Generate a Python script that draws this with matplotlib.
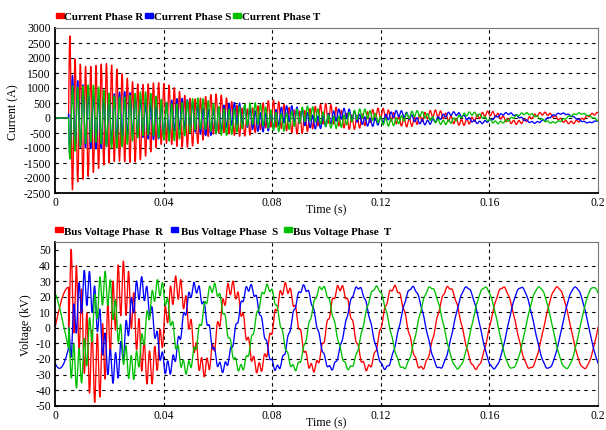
import numpy as np
import matplotlib.pyplot as plt
from matplotlib.patches import Rectangle

plt.rcParams['font.family'] = ['Liberation Serif', 'DejaVu Serif']
plt.rcParams['axes.unicode_minus'] = False

# ---- values ----
f_sys = 50.0        # Hz, 20 ms period of the bus voltages
f_ring = 520.0      # Hz, ringing after capacitor switching
t_switch = 0.005    # s
t_end = 0.2

phase_shift_deg = [0, -120, 120]
colors = ['#ff0000', '#0000ff', '#00c000']

# steady-state amplitudes
i_fund = [150, 150, 150]     # A  (capacitor current leads voltage by 90 deg)
v_fund = [26, 26, 26]        # kV

# envelope of the ringing, read at these instants
env_t = [0.005, 0.0055, 0.0065, 0.0075, 0.010, 0.015, 0.020, 0.025, 0.030, 0.035,
         0.040, 0.045, 0.050, 0.055, 0.060, 0.065, 0.070, 0.075, 0.080, 0.090,
         0.100, 0.110, 0.120, 0.140, 0.160, 0.180, 0.200]
i_ring_r = [2900, 2750, 2300, 2050, 1900, 1750, 1650, 1450, 1300, 1150,
            1000, 950, 800, 700, 650, 550, 450, 420, 450, 380,
            330, 230, 180, 120, 80, 50, 40]
i_ring_s = [1500, 1450, 1250, 1150, 1050, 900, 820, 750, 650, 580,
            550, 520, 480, 450, 420, 380, 350, 320, 300, 250,
            200, 160, 120, 70, 40, 25, 15]
i_ring_t = [1300, 1250, 1150, 1050, 980, 940, 900, 820, 760, 700,
            650, 600, 550, 500, 470, 420, 380, 350, 320, 260,
            220, 170, 130, 80, 45, 30, 20]
i_ring_sign = [1, -1, -1]

v_ring_r = [26, 26, 25, 24, 23, 22, 20, 17, 14, 11,
            9, 7.5, 6.5, 5.5, 5, 4.5, 4, 3.6, 3.3, 2.8,
            2.4, 2, 1.6, 1, 0.6, 0.4, 0.3]
v_ring_s = [13, 13, 13, 13, 12, 11, 10, 9, 7.5, 6,
            5, 4.2, 3.6, 3.2, 2.9, 2.6, 2.4, 2.2, 2, 1.7,
            1.4, 1.1, 0.9, 0.6, 0.4, 0.3, 0.2]
v_ring_t = [13, 13, 13, 13, 12, 11, 10, 9, 7.5, 6,
            5, 4.2, 3.6, 3.2, 2.9, 2.6, 2.4, 2.2, 2, 1.7,
            1.4, 1.1, 0.9, 0.6, 0.4, 0.3, 0.2]
v_ring_sign = [-1, 1, 1]

i_yticks = list(range(-2500, 3001, 500))
v_yticks = list(range(-50, 51, 10))
x_ticks = [0, 0.04, 0.08, 0.12, 0.16, 0.2]
x_ticklabels = ['0', '0.04', '0.08', '0.12', '0.16', '0.2']

i_labels = ['Current Phase R', 'Current Phase S', 'Current Phase T']
v_labels = ['Bus Voltage Phase  R', 'Bus Voltage Phase  S', 'Bus Voltage Phase  T']

# ---- waveforms ----
t = np.arange(0, t_end, 5e-6)
w = 2 * np.pi * f_sys
on = t >= t_switch
tp = np.where(on, t - t_switch, 0)
ring_s = np.sin(2 * np.pi * f_ring * tp)
ring_c = np.cos(2 * np.pi * f_ring * tp)

currents, voltages = [], []
for k in range(3):
    sh = np.deg2rad(phase_shift_deg[k])
    ie = np.interp(t, env_t, [i_ring_r, i_ring_s, i_ring_t][k])
    ve = np.interp(t, env_t, [v_ring_r, v_ring_s, v_ring_t][k])
    i = (i_fund[k] * np.cos(w * t + sh) + i_ring_sign[k] * ie * ring_s) * on
    v = v_fund[k] * np.sin(w * t + sh) + v_ring_sign[k] * ve * ring_c * on
    currents.append(i)
    voltages.append(v)

# ---- figure ----
W, H = 606, 430
fig = plt.figure(figsize=(W / 100, H / 100), dpi=100)
ax1 = fig.add_axes([55 / W, 1 - 193 / H, 543 / W, 165 / H])
ax2 = fig.add_axes([55 / W, 1 - 405.7 / H, 543 / W, 164 / H])


def style(ax, yticks, ylim):
    ax.set_xlim(0, 0.2)
    ax.set_ylim(*ylim)
    ax.set_xticks(x_ticks)
    ax.set_xticklabels(x_ticklabels)
    ax.set_yticks(yticks)
    ax.tick_params(direction='in', length=2, labelsize=8.4, pad=3)
    for y in yticks[1:-1]:
        ax.axhline(y, color='k', lw=0.8, ls=(0, (3, 4)), zorder=0.5)
    for x in x_ticks[1:-1]:
        ax.axvline(x, color='k', lw=0.8, ls=(0, (3, 3)), zorder=0.5)
    for s in ['left', 'bottom']:
        ax.spines[s].set_linewidth(1.3)
        ax.spines[s].set_color('k')
    for s in ['top', 'right']:
        ax.spines[s].set_linewidth(0.8)
        ax.spines[s].set_color('#777777')


for k in range(3):
    ax1.plot(t, currents[k], color=colors[k], lw=0.95)
    ax2.plot(t, voltages[k], color=colors[k], lw=0.95)

style(ax1, i_yticks, (-2500, 3000))
style(ax2, v_yticks, (-50, 55.3))

ax1.set_ylabel('Current (A)', fontsize=8.6)
ax1.yaxis.set_label_coords(-0.066, 0.49)
ax2.set_ylabel('Voltage (kV)', fontsize=8.6)
ax2.yaxis.set_label_coords(-0.043, 0.49)
fig.text(326.5 / W, 1 - 210 / H, 'Time (s)', ha='center', va='center', fontsize=8.6)
fig.text(326.5 / W, 1 - 423.5 / H, 'Time (s)', ha='center', va='center', fontsize=8.6)


def legend_row(y_base, rect_x, text_x, labels):
    for k in range(3):
        fig.patches.append(Rectangle((rect_x[k] / W, 1 - (y_base - 2.5) / H), 7.5 / W, 5 / H,
                                     transform=fig.transFigure, color=colors[k]))
        fig.text(text_x[k] / W, 1 - y_base / H, labels[k], fontsize=7.9,
                 fontweight='bold', ha='left', va='baseline')


legend_row(20.5, [56, 145, 233], [64, 154, 242.5], i_labels)
legend_row(235, [55, 171, 284], [64, 180.5, 293], v_labels)

fig.savefig('out.png', dpi=100)
